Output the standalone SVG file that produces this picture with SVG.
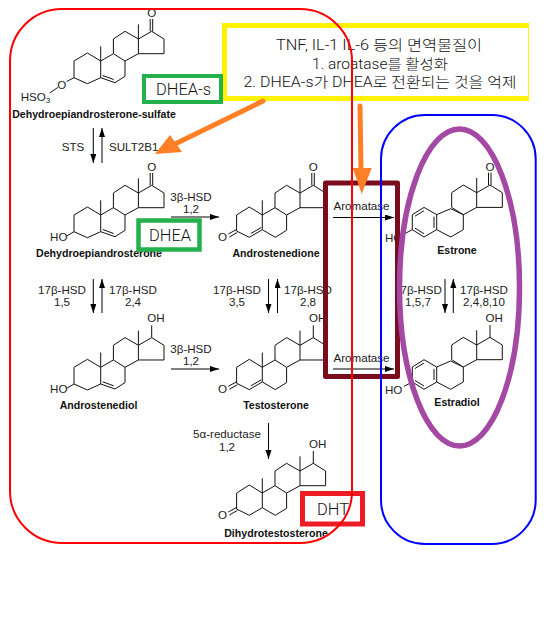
<svg xmlns="http://www.w3.org/2000/svg" width="559" height="626" viewBox="0 0 559 626">
<style>
text{font-family:"Liberation Sans",Arial,"Noto Sans CJK KR",sans-serif;fill:#222}
.l{font-size:11.6px;text-anchor:middle}
.s{font-size:11.6px}
.n{font-size:10.6px;font-weight:bold;text-anchor:middle;fill:#111}
.t{font-size:14px;font-weight:300;text-anchor:middle;font-family:Roboto,"Noto Sans CJK KR","Liberation Sans",sans-serif;fill:#111}
.b{font-size:16px;font-family:Roboto,"Liberation Sans",sans-serif;font-weight:300;fill:#111}
.m{fill:none;stroke:#111;stroke-width:1}
.r{fill:none;stroke:#000;stroke-width:1}
.o{fill:none;stroke:#ff7f27;stroke-width:5}
</style>
<defs>
<marker id="h" markerWidth="10" markerHeight="8" refX="9" refY="3" orient="auto" markerUnits="userSpaceOnUse"><path d="M0 0L9 3L0 6Z" fill="#000"/></marker>
<path id="core" class="m" d="M12.7 -7.3V-22L24.3 -29.7L37.7 -22V-7.3L24.3 0L12.7 -7.3M37.7 -22L51 -29.7L63.3 -22V-7.3H37.7M37.7 -22V-36.7"/>
<path id="ring5" class="m" d="M0 16.7L-13.3 22.7L-26.7 16.7V0L-13.3 -8L0 0V16.7M0 0V-14.7M0 0L12.7 -7.3M24.3 0V15.3L14.3 21.7L0 16.7M2 14.5L13 18.5"/>
<path id="enone" class="m" d="M0 14.7L-13 22.3L-25.7 16V0L-13 -8L0 0V14.7M0 0V-14.7M0 0L12.7 -7.3M24.3 0V15.3L13 22.3L0 14.7M-11.5 18.5L-1 12.5M-25.7 14.5L-34 19M-25 17.5L-33 22"/>
<path id="sat" class="m" d="M0 14.7L-13 22.3L-25.7 16V0L-13 -8L0 0V14.7M0 0V-14.7M0 0L12.7 -7.3M24.3 0V15.3L13 22.3L0 14.7M-25.7 14.5L-34 19M-25 17.5L-33 22"/>
<path id="arom" class="m" d="M-2.3 0L-15 -7.3L-26.7 0V15L-15 22.3L-2.3 15ZM-5 2V13M-15 -4L-24 1.5M-15 19L-24 13.5M-2.3 0L11.7 -6M-2.3 15L11.7 22.3L24.3 15V0L11.7 -6M-26.7 15L-35 19.3"/>
<path id="keto" class="m" d="M49.5 -29.7V-42M52 -29.7V-42"/>
<path id="hydroxy" class="m" d="M51 -29.7V-42"/>
</defs>

<g id="inflammation-note">
<rect x="222" y="23" width="307" height="78" fill="#fff200"/>
<rect x="227" y="28" width="301" height="68" fill="#fff"/>
<text class="t" x="379" y="50" textLength="206" lengthAdjust="spacingAndGlyphs">TNF, IL-1 IL-6 등의 면역물질이</text>
<text class="t" x="380" y="69" textLength="136" lengthAdjust="spacingAndGlyphs">1. aroatase를 활성화</text>
<text class="t" x="380" y="87" textLength="273" lengthAdjust="spacingAndGlyphs">2. DHEA-s가 DHEA로 전환되는 것을 억제</text>
</g>

<g id="dhea-sulfate" transform="translate(100.7,61)">
<use href="#core"/><use href="#ring5"/><use href="#keto"/>
<path class="m" d="M-26.7 16.7L-34 20.5M-43 26.5L-51 32"/>
<text class="s" x="-39" y="27.500" text-anchor="middle">O</text>
<text class="s" x="-80" y="40">HSO<tspan font-size="8" dy="2">3</tspan></text>
<text class="s" x="51" y="-44" text-anchor="middle">O</text>
<text class="n" x="-6.7" y="57">Dehydroepiandrosterone-sulfate</text>
</g>
<g id="dhea" transform="translate(100.7,215)">
<use href="#core"/><use href="#ring5"/><use href="#keto"/>
<path class="m" d="M-26.7 16.7L-34 21"/>
<text class="s" x="-50.7" y="26">HO</text>
<text class="s" x="51" y="-44" text-anchor="middle">O</text>
<text class="n" x="-1.7" y="42">Dehydroepiandrosterone</text>
</g>
<g id="androstenedione" transform="translate(262.3,215)">
<use href="#core"/><use href="#enone"/><use href="#keto"/>
<text class="s" x="-39.7" y="26" text-anchor="middle">O</text>
<text class="s" x="51" y="-44" text-anchor="middle">O</text>
<text class="n" x="13.7" y="42">Androstenedione</text>
</g>
<g id="androstenediol" transform="translate(100.7,367.3)">
<use href="#core"/><use href="#ring5"/><use href="#hydroxy"/>
<path class="m" d="M-26.7 16.7L-34 21"/>
<text class="s" x="-50.7" y="26">HO</text>
<text class="s" x="55.3" y="-45" text-anchor="middle">OH</text>
<text class="n" x="-2.2" y="42">Androstenediol</text>
</g>
<g id="testosterone" transform="translate(262.3,367.3)">
<use href="#core"/><use href="#enone"/><use href="#hydroxy"/>
<text class="s" x="-39.7" y="26" text-anchor="middle">O</text>
<text class="s" x="55.3" y="-45" text-anchor="middle">OH</text>
<text class="n" x="13.7" y="42">Testosterone</text>
</g>
<g id="dihydrotestosterone" transform="translate(262.3,493)">
<use href="#core"/><use href="#sat"/><use href="#hydroxy"/>
<text class="s" x="-39.7" y="26" text-anchor="middle">O</text>
<text class="s" x="55.3" y="-45" text-anchor="middle">OH</text>
<text class="n" x="13.7" y="44">Dihydrotestosterone</text>
</g>
<g id="estrone" transform="translate(439,214.7)">
<use href="#core"/><use href="#arom"/><use href="#keto"/>
<text class="s" x="-54" y="27">HO</text>
<text class="s" x="51" y="-44" text-anchor="middle">O</text>
<text class="n" x="18" y="39">Estrone</text>
</g>
<g id="estradiol" transform="translate(439,367)">
<use href="#core"/><use href="#arom"/><use href="#hydroxy"/>
<text class="s" x="-54" y="27">HO</text>
<text class="s" x="55.3" y="-45" text-anchor="middle">OH</text>
<text class="n" x="18" y="39">Estradiol</text>
</g>

<g id="connectors">
<path class="r" marker-end="url(#h)" d="M93.3 128V163"/>
<path class="r" marker-end="url(#h)" d="M102 163V128"/>
<path class="r" marker-end="url(#h)" d="M171 217H219"/>
<path class="r" marker-end="url(#h)" d="M333 217.5H394"/>
<path class="r" marker-end="url(#h)" d="M93.3 279V313"/>
<path class="r" marker-end="url(#h)" d="M102 313V279"/>
<path class="r" marker-end="url(#h)" d="M268.500 279V313"/>
<path class="r" marker-end="url(#h)" d="M277.500 313V279"/>
<path class="r" marker-end="url(#h)" d="M445 279V313"/>
<path class="r" marker-end="url(#h)" d="M453.3 313V279"/>
<path class="r" marker-end="url(#h)" d="M171 369H219"/>
<path class="r" marker-end="url(#h)" d="M333 369H394"/>
<path class="r" marker-end="url(#h)" d="M268.500 423V459"/>
<text class="l" x="73" y="151">STS</text>
<text class="s" x="109" y="151">SULT2B1</text>
<text class="l" x="191" y="201">3β-HSD</text><text class="l" x="191" y="213">1,2</text>
<text class="s" x="333.5" y="210">Aromatase</text>
<text class="l" x="62" y="294">17β-HSD</text><text class="l" x="62" y="306">1,5</text>
<text class="l" x="133" y="294">17β-HSD</text><text class="l" x="133" y="306">2,4</text>
<text class="l" x="237" y="294">17β-HSD</text><text class="l" x="237" y="306">3,5</text>
<text class="l" x="308" y="294">17β-HSD</text><text class="l" x="308" y="306">2,8</text>
<text class="l" x="418" y="294">17β-HSD</text><text class="l" x="418" y="306">1,5,7</text>
<text class="l" x="484" y="294">17β-HSD</text><text class="l" x="484" y="306">2,4,8,10</text>
<text class="l" x="191" y="353">3β-HSD</text><text class="l" x="191" y="365">1,2</text>
<text class="s" x="333.5" y="362">Aromatase</text>
<text class="l" x="227" y="438">5α-reductase</text><text class="l" x="227" y="450.500">1,2</text>
</g>

<g id="aromatase-box"><rect x="325.5" y="183" width="72" height="193.5" fill="none" stroke="#7a0c1e" stroke-width="5" stroke-linejoin="round"/></g>
<g id="estrogen-ellipse"><ellipse cx="459.5" cy="287.5" rx="60" ry="158.5" fill="none" stroke="#a349a4" stroke-width="5.5"/></g>
<g id="label-dhea-s"><rect x="144" y="76" width="77" height="26" fill="#fff" stroke="#22b14c" stroke-width="4"/><text class="b" x="156" y="95" textLength="55" lengthAdjust="spacingAndGlyphs">DHEA-s</text></g>
<g id="label-dhea"><rect x="138.5" y="220.5" width="61" height="29" fill="#fff" stroke="#22b14c" stroke-width="4.5"/><text class="b" x="149" y="241" textLength="42" lengthAdjust="spacingAndGlyphs">DHEA</text></g>
<g id="label-dht"><rect x="302.5" y="493.5" width="60" height="30.5" fill="#fff" stroke="#ed1c24" stroke-width="5"/><text class="b" x="317" y="515" textLength="32" lengthAdjust="spacingAndGlyphs">DHT</text></g>
<g id="effect-arrows">
<path class="o" stroke-linecap="round" d="M263 101L175 144"/>
<path d="M155 154L170 135L182 152Z" fill="#ff7f27"/>
<path class="o" stroke-linecap="round" d="M360 106L361 170"/>
<path d="M352.7 168H371.7L361.7 194Z" fill="#ff7f27"/>
</g>
<g id="steroid-group"><rect x="10" y="9" width="342" height="534" rx="52" fill="none" stroke="#f00" stroke-width="2"/></g>
<g id="estrogen-group"><rect x="381" y="115" width="154.700" height="429" rx="44" fill="none" stroke="#00f" stroke-width="2"/></g>
</svg>
